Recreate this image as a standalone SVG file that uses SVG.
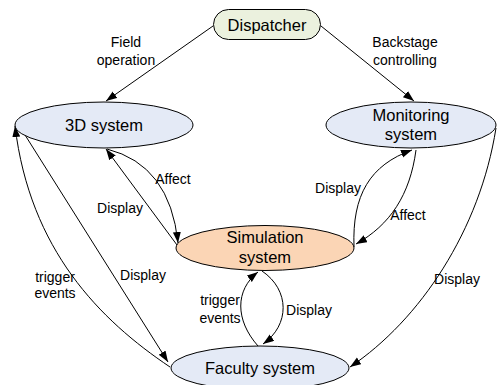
<svg xmlns="http://www.w3.org/2000/svg" width="497" height="385" viewBox="0 0 497 385">
<style>
.node{stroke:#000;stroke-width:1}
.nt{font-family:"Liberation Sans",Arial,sans-serif;font-size:16.5px;fill:#000;text-anchor:middle}
.lt{font-family:"Liberation Sans",Arial,sans-serif;font-size:14px;fill:#000;text-anchor:middle}
.edge{fill:none;stroke:#000;stroke-width:1;marker-end:url(#arr)}
</style>
<defs>
<marker id="arr" markerUnits="userSpaceOnUse" markerWidth="12" markerHeight="10" refX="11" refY="4" orient="auto">
<path d="M0,0 L11,4 L0,8 Z" fill="#000"/>
</marker>
</defs>
<rect width="497" height="385" fill="#fff"/>
<g id="connectors">
<path class="edge" d="M213,26 L106,101"/>
<path class="edge" d="M321,26 L414,101"/>
<path class="edge" d="M177,245 L106,149"/>
<path class="edge" d="M107,149 Q170,165 178,243"/>
<path class="edge" d="M354,247 C352,195 370,165 412,150"/>
<path class="edge" d="M416,150 C410,195 390,225 356,244"/>
<path class="edge" d="M170,367 C100,320 30,250 15,126"/>
<path class="edge" d="M20,127 L168,362"/>
<path class="edge" d="M496,128 C480,230 420,320 350,367"/>
<path class="edge" d="M258,346 C235,320 235,290 258,272"/>
<path class="edge" d="M262,271 C290,290 290,325 263,344"/>
<text class="lt" x="126" y="47">Field</text>
<text class="lt" x="126" y="65">operation</text>
<text class="lt" x="405" y="47">Backstage</text>
<text class="lt" x="405" y="65">controlling</text>
<text class="lt" x="173" y="184">Affect</text>
<text class="lt" x="120" y="213">Display</text>
<text class="lt" x="338" y="193">Display</text>
<text class="lt" x="408" y="220">Affect</text>
<text class="lt" x="55" y="282">trigger</text>
<text class="lt" x="55" y="298">events</text>
<text class="lt" x="143" y="280">Display</text>
<text class="lt" x="457" y="284">Display</text>
<text class="lt" x="220" y="305">trigger</text>
<text class="lt" x="220" y="323">events</text>
<text class="lt" x="309" y="315">Display</text>
</g>
<g id="dispatcher">
<rect class="node" x="213.5" y="9.5" width="107" height="30" rx="15" fill="#EBF1DE"/>
<text class="nt" x="267" y="31">Dispatcher</text>
</g>
<g id="system3d">
<ellipse class="node" cx="104" cy="125" rx="89" ry="23" fill="#E4EAF6"/>
<text class="nt" x="104" y="131">3D system</text>
</g>
<g id="monitoring">
<ellipse class="node" cx="411" cy="125" rx="85" ry="23" fill="#E4EAF6"/>
<text class="nt" x="411" y="121">Monitoring</text>
<text class="nt" x="411" y="140">system</text>
</g>
<g id="simulation">
<ellipse class="node" cx="265" cy="248" rx="89" ry="22.5" fill="#FBD5B5"/>
<text class="nt" x="265" y="243">Simulation</text>
<text class="nt" x="265" y="263">system</text>
</g>
<g id="faculty">
<ellipse class="node" cx="260" cy="368" rx="89" ry="22" fill="#E4EAF6"/>
<text class="nt" x="260" y="374">Faculty system</text>
</g>
</svg>
